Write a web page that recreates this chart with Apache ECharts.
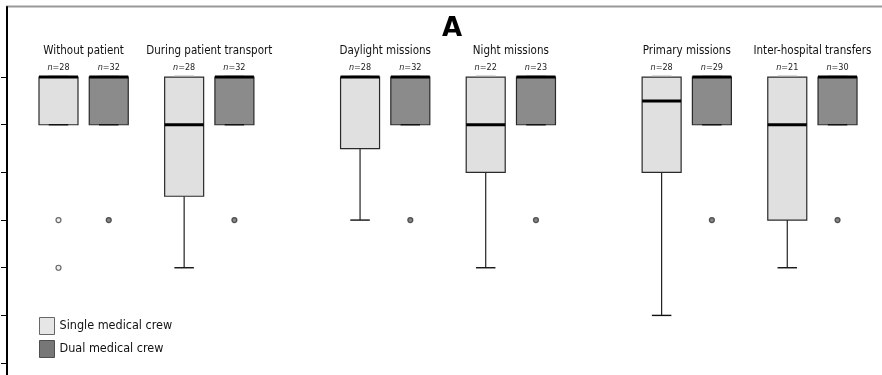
<!DOCTYPE html>
<html>
<head>
<meta charset="utf-8">
<script src="https://cdn.jsdelivr.net/npm/echarts@6/dist/echarts.min.js"></script>
<style>
    html, body { margin: 0; padding: 0; background: #fff; }
    #chart { width: 882px; height: 375px; }
</style>
</head>
<body>
<div id="chart"></div>
<script>
    // values (scale 1..7, top tick = 7)
    var groups = ['Without patient', 'During patient transport', 'Daylight missions', 'Night missions', 'Primary missions', 'Inter-hospital transfers'];
    var nSingle = [28, 28, 28, 22, 28, 21];
    var nDual = [32, 32, 32, 23, 29, 30];
    // [min, Q1, median, Q3, max]
    var singleBoxes = [
        [6, 6, 7, 7, 7],
        [3, 4.5, 6, 7, 7],
        [4, 5.5, 7, 7, 7],
        [3, 5, 6, 7, 7],
        [2, 5, 6.5, 7, 7],
        [3, 4, 6, 7, 7]
    ];
    var dualBoxes = [
        [6, 6, 7, 7, 7],
        [6, 6, 7, 7, 7],
        [6, 6, 7, 7, 7],
        [6, 6, 7, 7, 7],
        [6, 6, 7, 7, 7],
        [6, 6, 7, 7, 7]
    ];
    // [group index, value]
    var singleOutliers = [[0, 4], [0, 3]];
    var dualOutliers = [[0, 4], [1, 4], [2, 4], [3, 4], [4, 4], [5, 4]];
    var yTicks = [1, 2, 3, 4, 5, 6, 7];

    // slot layout on the category axis
    var slotCount = 33;
    var slotSingle = [1, 6, 13, 18, 25, 30];
    var slotDual = [3, 8, 15, 20, 27, 32];
    var slotLabel = [2, 7, 14, 19, 26, 31];

    var singleColor = '#e0e0e0', dualColor = '#8b8b8b';
    var font = "'Liberation Sans Narrow', 'DejaVu Sans Condensed', 'Noto Sans', sans-serif";
    var boxW = 39;

    var cats = [], groupLabels = [], nLabels = [];
    for (var i = 0; i < slotCount; i++) { cats.push(String(i)); groupLabels.push(''); nLabels.push(''); }
    groups.forEach(function (g, k) {
        groupLabels[slotLabel[k]] = g;
        nLabels[slotSingle[k]] = '{i|n}=' + nSingle[k];
        nLabels[slotDual[k]] = '{i|n}=' + nDual[k];
    });

    var boxData = [];
    groups.forEach(function (g, k) {
        boxData.push({ value: [slotSingle[k]].concat(singleBoxes[k]), itemStyle: { color: singleColor } });
        boxData.push({ value: [slotDual[k]].concat(dualBoxes[k]), itemStyle: { color: dualColor } });
    });

    function renderBox(params, api) {
        var x = api.value(0);
        var pMin = api.coord([x, api.value(1)]);
        var pQ1 = api.coord([x, api.value(2)]);
        var pMed = api.coord([x, api.value(3)]);
        var pQ3 = api.coord([x, api.value(4)]);
        var pMax = api.coord([x, api.value(5)]);
        var cx = pMed[0], hw = boxW / 2, capHw = boxW / 4;
        var stroke = { stroke: '#222', lineWidth: 1.2 };
        var children = [];
        if (pMin[1] > pQ1[1]) {
            children.push({ type: 'line', shape: { x1: cx, y1: pMin[1], x2: cx, y2: pQ1[1] }, style: stroke });
        }
        if (pMax[1] < pQ3[1]) {
            children.push({ type: 'line', shape: { x1: cx, y1: pMax[1], x2: cx, y2: pQ3[1] }, style: stroke });
        }
        children.push({
            type: 'rect',
            shape: { x: cx - hw, y: pQ3[1], width: boxW, height: pQ1[1] - pQ3[1] },
            style: { fill: api.visual('color'), stroke: '#2a2a2a', lineWidth: 1.2 }
        });
        children.push({ type: 'line', shape: { x1: cx - capHw, y1: pMin[1], x2: cx + capHw, y2: pMin[1] }, style: { stroke: '#111', lineWidth: 1.4 } });
        children.push({ type: 'line', shape: { x1: cx - capHw, y1: pMax[1] - 1, x2: cx + capHw, y2: pMax[1] - 1 }, style: { stroke: '#aaa', lineWidth: 1 } });
        children.push({ type: 'rect', shape: { x: cx - hw, y: pMed[1] - 1.5, width: boxW, height: 3 }, style: { fill: '#000' } });
        return { type: 'group', children: children };
    }

    var gridLeft = 20.8;

    var myChart = echarts.init(document.getElementById('chart'));
    var option = {
        animation: false,
        title: {
            text: 'A',
            left: 447,
            textAlign: 'center',
            top: 11,
            textStyle: { fontSize: 26, fontWeight: 'bold', color: '#000', fontFamily: 'DejaVu Sans' }
        },
        legend: {
            orient: 'vertical',
            left: 39,
            top: 317,
            padding: 0,
            itemWidth: 15,
            itemHeight: 17,
            itemGap: 5,
            selectedMode: false,
            textStyle: { fontSize: 12.5, color: '#111', fontFamily: font },
            data: [
                { name: 'Single medical crew', icon: 'rect', itemStyle: { color: singleColor, borderColor: '#444', borderWidth: 1 } },
                { name: 'Dual medical crew', icon: 'rect', itemStyle: { color: '#555', borderColor: '#333', borderWidth: 1 } }
            ]
        },
        grid: { left: gridLeft, right: 31.9, top: 7, bottom: 0 },
        xAxis: [{
            type: 'category',
            position: 'top',
            data: cats,
            axisLine: { show: false },
            axisTick: { show: false },
            axisLabel: {
                inside: true,
                interval: 0,
                margin: 38,
                fontSize: 11.5,
                color: '#111',
                fontFamily: font,
                formatter: function (v, idx) { return groupLabels[idx]; }
            }
        }, {
            type: 'category',
            position: 'top',
            data: cats,
            axisLine: { show: false },
            axisTick: { show: false },
            axisLabel: {
                inside: true,
                interval: 0,
                margin: 56.5,
                fontSize: 9,
                color: '#222',
                fontFamily: font,
                formatter: function (v, idx) { return nLabels[idx]; },
                rich: { i: { fontStyle: 'italic', fontSize: 9, color: '#222', fontFamily: font } }
            }
        }],
        yAxis: {
            type: 'value',
            min: 0.75,
            max: 8.47,
            offset: gridLeft - 7,
            splitLine: { show: false },
            axisLine: { show: true, lineStyle: { color: '#000', width: 2 } },
            axisTick: { show: true, length: 6, customValues: yTicks, lineStyle: { color: '#000', width: 1 } },
            axisLabel: { show: false }
        },
        graphic: [{
            type: 'line',
            shape: { x1: 6, y1: 6.5, x2: 882, y2: 6.5 },
            style: { stroke: '#999', lineWidth: 2 }
        }],
        series: [{
            type: 'custom',
            xAxisIndex: 0,
            renderItem: renderBox,
            encode: { x: 0, y: [1, 2, 3, 4, 5] },
            silent: true,
            data: boxData
        }, {
            name: 'Single medical crew',
            type: 'scatter',
            xAxisIndex: 0,
            symbolSize: 5,
            itemStyle: { color: '#eee', borderColor: '#444', borderWidth: 1.2 },
            data: singleOutliers.map(function (p) { return [slotSingle[p[0]], p[1]]; })
        }, {
            name: 'Dual medical crew',
            type: 'scatter',
            xAxisIndex: 0,
            symbolSize: 5,
            itemStyle: { color: '#666', borderColor: '#333', borderWidth: 1.2 },
            data: dualOutliers.map(function (p) { return [slotDual[p[0]], p[1]]; })
        }]
    };
    window.onresize = function () { myChart.resize(); };
    myChart.setOption(option);
</script>
</body>
</html>
